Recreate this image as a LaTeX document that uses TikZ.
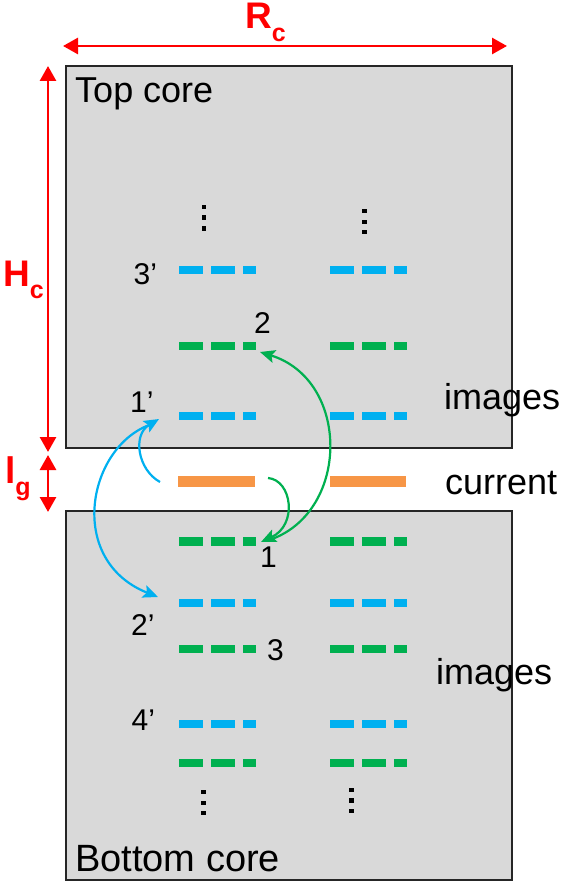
\documentclass[tikz,border=0pt]{standalone}
\usepackage{fontspec}
\setmainfont{Liberation Sans}
\usetikzlibrary{arrows.meta}
\definecolor{myred}{HTML}{FF0000}
\definecolor{myblue}{HTML}{00B0F0}
\definecolor{mygreen}{HTML}{00B050}
\definecolor{myorange}{HTML}{F79646}
\definecolor{coregray}{HTML}{D9D9D9}
\definecolor{edge}{HTML}{262626}
\newcommand{\mysub}[1]{\raisebox{-12.5pt}{\fontsize{25}{25}\selectfont #1}}
\begin{document}
\begin{tikzpicture}[x=1pt,y=-1pt,
  corebox/.style={fill=coregray,draw=edge,line width=1.6pt},
  lbl/.style={inner sep=0pt,font=\fontsize{36}{40}\selectfont,anchor=base west},
  numlbl/.style={inner sep=0pt,font=\fontsize{30}{34}\selectfont,anchor=base west},
  dimlbl/.style={inner sep=0pt,text=myred,font=\fontsize{37}{40}\selectfont\bfseries,anchor=base west},
  dimarrow/.style={draw=myred,line width=2.8pt,{Triangle[length=15pt,width=16pt]}-{Triangle[length=15pt,width=16pt]}},
  imgdash/.style={line width=8.5pt,dash pattern=on 24pt off 8pt on 24pt off 8pt on 13pt off 60pt},
  bluedash/.style={imgdash,draw=myblue},
  greendash/.style={imgdash,draw=mygreen},
  curline/.style={draw=myorange,line width=11pt},
  bluearr/.style={draw=myblue,line width=2.2pt,-{Stealth[length=15pt,width=13pt,inset=3pt]}},
  greenarr/.style={draw=mygreen,line width=2.2pt,-{Stealth[length=15pt,width=13pt,inset=3pt]}},
  dotsq/.style={fill=black}
]
\useasboundingbox (0,0) rectangle (562,882);
% cores
\draw[corebox] (66,66) rectangle (512,448);
\draw[corebox] (66,511) rectangle (512,880);
\node[lbl] (topcore) at (75,103) {Top core};
\node[lbl,font=\fontsize{38}{40}\selectfont] (botcore) at (75,871) {Bottom core};
% dimension arrows
\coordinate (rcL) at (63,46);
\coordinate (rcR) at (507,46);
\draw[dimarrow] (rcL) -- (rcR);
\node[dimlbl] (rc) at (245,29) {R\mysub{c}};
\coordinate (hcT) at (48,66);
\coordinate (hcB) at (48,452);
\draw[dimarrow] (hcT) -- (hcB);
\node[dimlbl] (hc) at (3,286) {H\mysub{c}};
\coordinate (lgT) at (48,455);
\coordinate (lgB) at (48,512);
\draw[dimarrow] (lgT) -- (lgB);
\node[dimlbl] (lg) at (5,483) {l\mysub{g}};
% image lines
\foreach \x in {179,330}{
  \draw[bluedash] (\x,270) -- ++(78,0);
  \draw[greendash] (\x,346) -- ++(78,0);
  \draw[bluedash] (\x,416) -- ++(78,0);
  \draw[greendash] (\x,541.5) -- ++(78,0);
  \draw[bluedash] (\x,603) -- ++(78,0);
  \draw[greendash] (\x,649) -- ++(78,0);
  \draw[bluedash] (\x,724) -- ++(78,0);
  \draw[greendash] (\x,763) -- ++(78,0);
}
\draw[curline] (178,481) -- (255,481);
\draw[curline] (330,481) -- (406,481);
% vertical dots
\foreach \y in {207,217.5,228.5} \fill[dotsq] (204,\y) +(-2.3,-2.3) rectangle +(2.3,2.3);
\foreach \y in {211,222,232} \fill[dotsq] (364.5,\y) +(-2.3,-2.3) rectangle +(2.3,2.3);
\foreach \y in {792,803,813} \fill[dotsq] (203.5,\y) +(-2.3,-2.3) rectangle +(2.3,2.3);
\foreach \y in {790,800.5,811} \fill[dotsq] (351.5,\y) +(-2.3,-2.3) rectangle +(2.3,2.3);
% labels
\node[lbl] (img1) at (444,409) {images};
\node[lbl] (cur) at (445,494) {current};
\node[lbl] (img2) at (436,684) {images};
\node[numlbl] (n3p) at (133.5,284) {3’};
\node[numlbl] (n2) at (254,333) {2};
\node[numlbl] (n1p) at (130,412) {1’};
\node[numlbl] (n1) at (260,567) {1};
\node[numlbl] (n2p) at (131,635) {2’};
\node[numlbl] (n3) at (267,660) {3};
\node[numlbl] (n4p) at (131.5,730) {4’};
% curved arrows
\coordinate (curL) at (160,482);
\coordinate (tip1p) at (159,419);
\coordinate (start1p) at (152,424);
\coordinate (tip2p) at (158,597);
\coordinate (curR) at (268,478);
\coordinate (tip1) at (261,542);
\coordinate (start1) at (272,539);
\coordinate (tip2) at (260,352);
\draw[bluearr] (curL) .. controls (138,470) and (132,435) .. (tip1p);
\draw[bluearr] (start1p) .. controls (88,445) and (65,560) .. (tip2p);
\draw[greenarr] (curR) .. controls (292,480) and (298,525) .. (tip1);
\draw[greenarr] (start1) .. controls (350,510) and (350,380) .. (tip2);
\end{tikzpicture}
\end{document}
